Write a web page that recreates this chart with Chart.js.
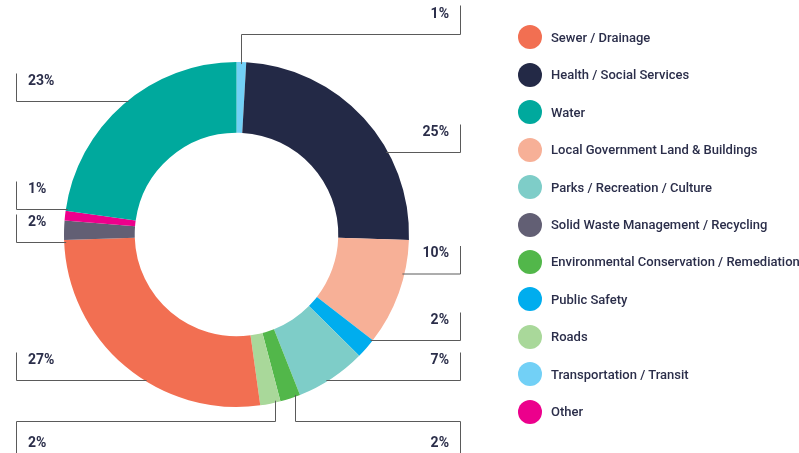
<!DOCTYPE html>
<html>
<head>
<meta charset="utf-8">
<script src="https://cdn.jsdelivr.net/npm/chart.js@4.4.1/dist/chart.umd.min.js"></script>
<style>
  html, body { margin: 0; padding: 0; background: #fff; }
  #wrap { position: relative; width: 799px; height: 453px; overflow: hidden; }
  #spend { position: absolute; left: 0; top: 0; }
  #legend { position: absolute; left: 518px; top: 18.6px; font-family: Roboto, "Noto Sans", sans-serif; }
  .row { display: flex; align-items: center; height: 37.44px; }
  .dot { width: 24px; height: 24px; border-radius: 50%; margin-right: 9px; flex: none; }
  .txt { font-size: 13px; font-weight: 500; color: #2b2e4a; white-space: nowrap; }
</style>
</head>
<body>
<div id="wrap">
  <canvas id="spend" width="799" height="453"></canvas>
  <div id="legend"></div>
</div>
<script>
// slices, clockwise from the top
const categories = [
  'Transportation / Transit', 'Health / Social Services', 'Local Government Land & Buildings',
  'Public Safety', 'Parks / Recreation / Culture', 'Environmental Conservation / Remediation',
  'Roads', 'Sewer / Drainage', 'Solid Waste Management / Recycling', 'Other', 'Water'
];
const shares = [0.9, 24.6, 10.0, 1.9, 6.6, 1.9, 1.9, 26.7, 1.8, 0.9, 22.8];
const colors = ['#72d0f6', '#232946', '#f7b097', '#00adee', '#7ecdc8', '#52b74a',
  '#a9d89a', '#f26f52', '#625f74', '#ec008c', '#00a99d'];

// legend order as printed
const legendOrder = [
  'Sewer / Drainage', 'Health / Social Services', 'Water', 'Local Government Land & Buildings',
  'Parks / Recreation / Culture', 'Solid Waste Management / Recycling',
  'Environmental Conservation / Remediation', 'Public Safety', 'Roads',
  'Transportation / Transit', 'Other'
];

// callout placement per slice: side, kind, y of the leader line
const callouts = [
  {side: 'right', kind: 'drop', y: 34.5},
  {side: 'right', kind: 'flat', y: 152.5},
  {side: 'right', kind: 'flat', y: 274},
  {side: 'right', kind: 'flat', y: 340.5},
  {side: 'right', kind: 'flat', y: 380.5},
  {side: 'right', kind: 'rise', y: 421.5},
  {side: 'left', kind: 'rise', y: 421.5},
  {side: 'left', kind: 'flat', y: 380.5},
  {side: 'left', kind: 'flat', y: 242.5},
  {side: 'left', kind: 'flat', y: 209.5},
  {side: 'left', kind: 'flat', y: 101.5}
];

const calloutPlugin = {
  id: 'callouts',
  afterDraw(chart) {
    const ctx = chart.ctx;
    const meta = chart.getDatasetMeta(0);
    ctx.save();
    ctx.strokeStyle = '#5a5a5a';
    ctx.lineWidth = 1;
    ctx.fillStyle = '#2b2e4a';
    ctx.font = '700 14px Roboto, "Noto Sans", sans-serif';
    ctx.textBaseline = 'middle';
    meta.data.forEach((arc, i) => {
      const p = arc.getProps(['x', 'y', 'outerRadius', 'startAngle', 'endAngle'], true);
      const c = callouts[i];
      const edgeX = c.side === 'right' ? 460.5 : 16.5;
      const label = Math.round(shares[i]) + '%';
      ctx.beginPath();
      if (c.kind === 'flat') {
        const dy = c.y - p.y;
        const dx = Math.sqrt(Math.max(0, p.outerRadius * p.outerRadius - dy * dy));
        const ax = c.side === 'right' ? p.x + dx - 2 : p.x - dx + 2;
        ctx.moveTo(ax, c.y);
        ctx.lineTo(edgeX, c.y);
        ctx.lineTo(edgeX, c.y - 28);
      } else {
        // the bottom ones sit nearer the leading edge of the slice
        const f = c.kind === 'drop' ? 0.5 : 0.27;
        const ang = p.startAngle + f * (p.endAngle - p.startAngle);
        const ax = Math.round(p.x + p.outerRadius * Math.cos(ang)) + 0.5;
        const ay = p.y + (p.outerRadius - 2) * Math.sin(ang);
        ctx.moveTo(ax, ay);
        ctx.lineTo(ax, c.y);
        ctx.lineTo(edgeX, c.y);
        ctx.lineTo(edgeX, c.kind === 'drop' ? c.y - 29 : c.y + 32);
      }
      ctx.stroke();
      const ty = c.kind === 'rise' ? c.y + 22 : c.y - 20.5;
      ctx.textAlign = c.side === 'right' ? 'right' : 'left';
      ctx.fillText(label, c.side === 'right' ? edgeX - 11.5 : edgeX + 11.5, ty);
    });
    ctx.restore();
  }
};

new Chart(document.getElementById('spend'), {
  type: 'doughnut',
  data: {
    labels: categories,
    datasets: [{
      data: shares,
      backgroundColor: colors,
      borderWidth: 0
    }]
  },
  options: {
    responsive: false,
    animation: false,
    cutout: '59%',
    layout: { padding: { left: 64, right: 390, top: 62, bottom: 46 } },
    plugins: {
      legend: { display: false },
      tooltip: { enabled: false }
    }
  },
  plugins: [calloutPlugin]
});

const legendEl = document.getElementById('legend');
legendOrder.forEach(name => {
  const i = categories.indexOf(name);
  const row = document.createElement('div');
  row.className = 'row';
  row.innerHTML = '<span class="dot" style="background:' + colors[i] + '"></span><span class="txt"></span>';
  row.querySelector('.txt').textContent = name;
  legendEl.appendChild(row);
});
</script>
</body>
</html>
